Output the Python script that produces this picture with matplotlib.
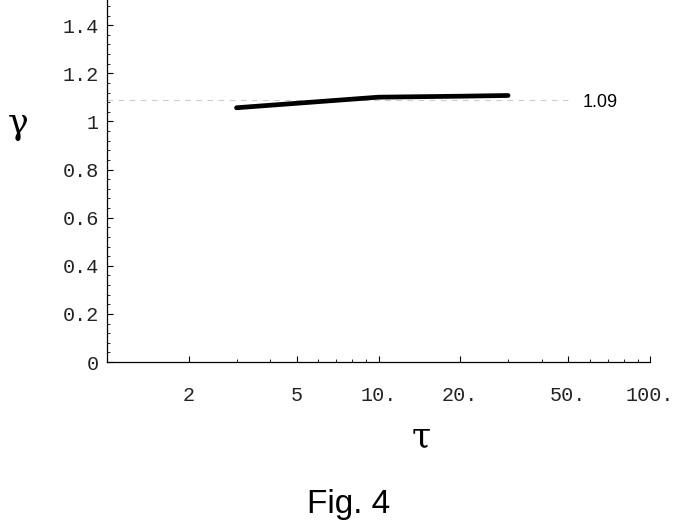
import matplotlib.pyplot as plt
from matplotlib.ticker import FixedLocator, FixedFormatter, MultipleLocator

tau = [3, 10, 20, 30]
gamma = [1.057, 1.101, 1.105, 1.108]

ref_x = [1, 50]
ref_y = 1.09
ref_label = '1.09'

x_major = [2, 5, 10, 20, 50, 100]
x_major_labels = ['2', '5', '10.', '20.', '50.', '100.']
x_minor = [3, 4, 6, 7, 8, 9, 30, 40, 60, 70, 80, 90]
y_major = [0, 0.2, 0.4, 0.6, 0.8, 1.0, 1.2, 1.4]
y_major_labels = ['0', '0.2', '0.4', '0.6', '0.8', '1', '1.2', '1.4']

fig = plt.figure(figsize=(6.81, 5.25), dpi=100)
ax = fig.add_axes([107 / 681, 1 - 362 / 525, (650 - 107) / 681, 362 / 525])

ax.plot(ref_x, [ref_y, ref_y], color='#cccccc', lw=0.8, ls=(0, (5, 5)))
ax.plot(tau, gamma, color='black', lw=3.4, solid_capstyle='round')
ax.text(56.5, ref_y - 0.01, ref_label, fontsize=13, family='Liberation Sans', va='center', ha='left')

ax.set_xscale('log')
ax.set_xlim(1, 100)
ax.set_ylim(0, 1.505)

ax.xaxis.set_major_locator(FixedLocator(x_major))
ax.xaxis.set_major_formatter(FixedFormatter(x_major_labels))
ax.xaxis.set_minor_locator(FixedLocator(x_minor))
ax.xaxis.set_minor_formatter(FixedFormatter([]))
ax.yaxis.set_major_locator(FixedLocator(y_major))
ax.yaxis.set_major_formatter(FixedFormatter(y_major_labels))
ax.yaxis.set_minor_locator(MultipleLocator(0.04))

for s in ['top', 'right']:
    ax.spines[s].set_visible(False)
for s in ['left', 'bottom']:
    ax.spines[s].set_linewidth(0.9)

ax.tick_params(which='major', direction='in', length=4, width=0.8, labelsize=14.5)
ax.tick_params(which='minor', direction='in', length=2.2, width=0.6)
ax.tick_params(axis='x', which='major', pad=17)
ax.tick_params(axis='y', which='major', pad=6)
for lab in ax.get_xticklabels() + ax.get_yticklabels():
    lab.set_family('Liberation Mono')
    lab.set_color('#222222')

fig.text(18 / 681, 1 - 124 / 525, 'γ', fontsize=25, ha='center', va='center',
         family='DejaVu Serif')
fig.text(421 / 681, 1 - 437 / 525, 'τ', fontsize=25, ha='center', va='center',
         family='DejaVu Serif')
fig.text(349 / 681, 1 - 504 / 525, 'Fig. 4', fontsize=24, ha='center', va='center',
         family='Liberation Sans')

fig.savefig('out.png', dpi=100)
